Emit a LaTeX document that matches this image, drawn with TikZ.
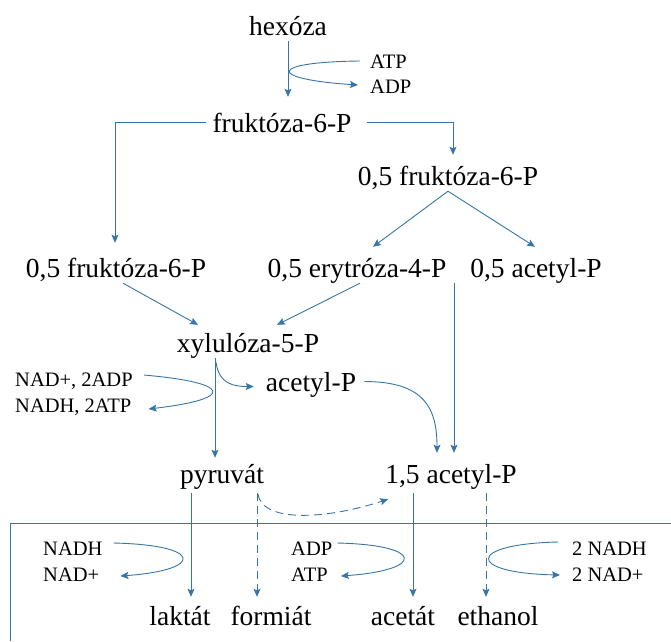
\documentclass[tikz,border=0pt]{standalone}
\usepackage{fontspec}
\setmainfont{Liberation Serif}
\usetikzlibrary{arrows.meta}
\definecolor{flow}{RGB}{55,117,168}

\begin{document}
\begin{tikzpicture}[x=1pt,y=-1pt,
  main/.style={font=\fontsize{27.5}{30}\selectfont, inner sep=0pt, text height=19pt, text depth=6pt, anchor=base},
  small/.style={font=\fontsize{20.5}{24}\selectfont, inner sep=0pt, text height=14pt, text depth=4pt, anchor=base west},
  arr/.style={draw=flow, line width=0.9pt, -{Stealth[length=8pt,width=7pt,inset=1.5pt]}},
  dsh/.style={arr, dash pattern=on 8pt off 5pt}]

\useasboundingbox (0,0) rectangle (671,641);

\node[main] (hex) at (288,35) {hexóza};
\node[small] (atp1) at (370,68) {ATP};
\node[small] (adp1) at (370,93) {ADP};
\node[main] (fru) at (282,132) {fruktóza-6-P};
\node[main] (fruR) at (448,185) {0,5 fruktóza-6-P};
\node[main] (fruL) at (116,277) {0,5 fruktóza-6-P};
\node[main] (ery) at (357,277) {0,5 erytróza-4-P};
\node[main] (acpA) at (536,277) {0,5 acetyl-P};
\node[main] (xyl) at (248,352) {xylulóza-5-P};
\node[main] (acp) at (311,391) {acetyl-P};
\node[small] (nad1) at (15,386) {NAD+, 2ADP};
\node[small] (nadh1) at (15,412) {NADH, 2ATP};
\node[main] (pyr) at (222,483) {pyruvát};
\node[main] (acpB) at (451,483) {1,5 acetyl-P};

\draw[flow, line width=0.8pt] (10,641) -- (10,523) -- (671,523);

\node[small] (nadh2) at (43,555) {NADH};
\node[small] (nad2) at (43,581) {NAD+};
\node[small] (adp2) at (291,555) {ADP};
\node[small] (atp2) at (291,581) {ATP};
\node[small] (nadh3) at (572,555) {2 NADH};
\node[small] (nad3) at (572,581) {2 NAD+};
\node[main] (lak) at (180,625) {laktát};
\node[main] (for) at (271,625) {formiát};
\node[main] (ace) at (403,625) {acetát};
\node[main] (eth) at (498,625) {ethanol};

\draw[arr] (hex.south) -- ([yshift=16pt]hex.south |- fru.north);
\draw[arr] ([xshift=-10pt,yshift=2pt]atp1.west) .. controls (267,62) and (267,79) .. ([xshift=-12pt,yshift=3pt]adp1.west);
\draw[arr] ([xshift=-6pt,yshift=3pt]fru.west) -| ([xshift=-1pt,yshift=15pt]fruL.north);
\draw[arr] ([xshift=15pt,yshift=3pt]fru.east) -| ([xshift=5pt,yshift=11pt]fruR.north);
\draw[arr] (fruR.south) -- ([xshift=16pt,yshift=11pt]ery.north);
\draw[arr] (fruR.south) -- ([xshift=-1pt,yshift=11pt]acpA.north);
\draw[arr] ([xshift=7pt]fruL.south) -- ([xshift=-50pt,yshift=8pt]xyl.north);
\draw[arr] ([xshift=3pt]ery.south) -- ([xshift=29pt,yshift=8pt]xyl.north);
\draw[arr] ([xshift=3pt]acpB.north |- acpA.south) -- ([xshift=3pt,yshift=11pt]acpB.north);

\draw[arr] ([xshift=-7pt]pyr.north |- xyl.south) -- ([xshift=-7pt,yshift=6pt]pyr.north);
\draw[arr] ([xshift=-6pt,yshift=-4pt]pyr.north |- xyl.south) .. controls +(3,22) and +(-20,0) .. ([xshift=-12pt,yshift=-2pt]acp.west);
\draw[arr] ([xshift=11pt,yshift=6pt]nad1.east) .. controls (234,383) and (234,399) .. ([xshift=17pt,yshift=-2pt]nadh1.east);
\draw[arr] ([xshift=8pt,yshift=3pt]acp.east) .. controls +(60,0) and +(0,-45) .. ([xshift=-14pt,yshift=11pt]acpB.north);

\draw[arr] ([xshift=11pt,yshift=-4pt]lak.north |- pyr.south) -- ([xshift=11pt,yshift=9pt]lak.north);
\draw[dsh] ([xshift=-14pt,yshift=-4pt]for.north |- pyr.south) -- ([xshift=-14pt,yshift=9pt]for.north);
\draw[dsh] ([xshift=-13pt,yshift=-5pt]for.north |- pyr.south) .. controls +(5,30) and +(-58,19) .. ([xshift=3pt,yshift=-10pt]acpB.south west);
\draw[arr] ([xshift=10pt,yshift=-4pt]ace.north |- acpB.south) -- ([xshift=10pt,yshift=9pt]ace.north);
\draw[dsh] ([xshift=-12pt,yshift=-4pt]eth.north |- acpB.south) -- ([xshift=-12pt,yshift=9pt]eth.north);

\draw[arr] ([xshift=11pt,yshift=7pt]nadh2.east) .. controls (204,545) and (204,570) .. ([xshift=21pt]nad2.east);
\draw[arr] ([xshift=5pt,yshift=7pt]adp2.east) .. controls (425,545) and (425,570) .. ([xshift=13pt]atp2.east);
\draw[arr] ([xshift=-14pt,yshift=8pt]nadh3.west) .. controls (466,544) and (466,573) .. ([xshift=-12pt,yshift=1pt]nad3.west);
\end{tikzpicture}
\end{document}
